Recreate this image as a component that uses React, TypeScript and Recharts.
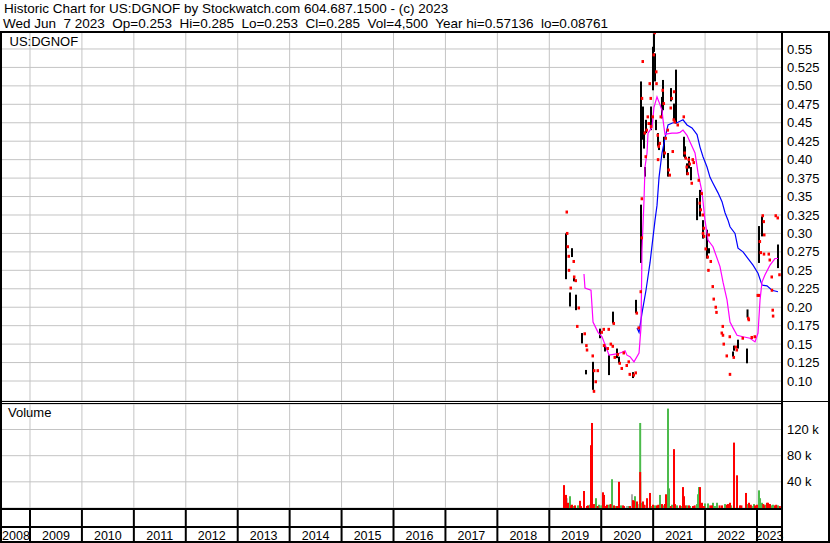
import React from "react";
import {
  ComposedChart, Line, Scatter, ErrorBar, XAxis, YAxis, CartesianGrid,
} from "recharts";

const FONT = "'Liberation Sans', Arial, sans-serif";

// daily high/low bars (decimal year)
const barT = [
  2019.322, 2019.399, 2019.437, 2019.476, 2019.514, 2019.63, 2019.707, 2019.842, 2019.976, 2020.073,
  2020.15, 2020.227, 2020.304, 2020.342, 2020.612, 2020.67, 2020.766, 2020.766, 2020.804, 2020.824,
  2020.843, 2020.862, 2020.959, 2020.997, 2021.016, 2021.036, 2021.055, 2021.093, 2021.113, 2021.17,
  2021.19, 2021.209, 2021.286, 2021.344, 2021.401, 2021.44, 2021.594, 2021.613, 2021.652, 2021.69,
  2021.729, 2021.845, 2021.902, 2021.96, 2022.037, 2022.075, 2022.538, 2022.557, 2022.634, 2022.807,
  2022.817, 2023.038, 2023.096, 2023.404,
];
const barHi = [
  0.3, 0.22, 0.28, 0.241, 0.217, 0.165, 0.115, 0.126, 0.171, 0.149,
  0.135, 0.194, 0.144, 0.133, 0.112, 0.21, 0.339, 0.506, 0.472, 0.438,
  0.39, 0.454, 0.472, 0.553, 0.571, 0.544, 0.454, 0.436, 0.424, 0.485,
  0.508, 0.431, 0.409, 0.497, 0.476, 0.522, 0.431, 0.418, 0.395, 0.404,
  0.39, 0.348, 0.359, 0.318, 0.305, 0.28, 0.14, 0.148, 0.156, 0.144,
  0.197, 0.31, 0.323, 0.285,
];
const barLo = [
  0.238, 0.201, 0.268, 0.235, 0.196, 0.151, 0.109, 0.088, 0.158, 0.14,
  0.108, 0.178, 0.131, 0.124, 0.104, 0.192, 0.26, 0.39, 0.427, 0.415,
  0.377, 0.436, 0.44, 0.494, 0.546, 0.506, 0.44, 0.418, 0.413, 0.456,
  0.467, 0.402, 0.377, 0.479, 0.454, 0.449, 0.404, 0.402, 0.379, 0.388,
  0.372, 0.318, 0.323, 0.293, 0.266, 0.273, 0.133, 0.141, 0.144, 0.124,
  0.186, 0.26, 0.296, 0.253,
];

// close ticks
const closeT = [
  2019.322, 2019.33, 2019.341, 2019.36, 2019.365, 2019.399, 2019.456, 2019.465, 2019.495, 2019.524,
  2019.553, 2019.668, 2019.7, 2019.712, 2019.822, 2019.846, 2019.85, 2019.88, 2019.919, 2019.995,
  2020.034, 2020.04, 2020.111, 2020.13, 2020.17, 2020.208, 2020.227, 2020.246, 2020.304, 2020.342,
  2020.381, 2020.419, 2020.477, 2020.515, 2020.535, 2020.612, 2020.65, 2020.67, 2020.708, 2020.747,
  2020.766, 2020.768, 2020.77, 2020.785, 2020.824, 2020.843, 2020.862, 2020.882, 2020.901, 2020.92,
  2020.939, 2020.945, 2020.978, 2020.997, 2021.016, 2021.045, 2021.05, 2021.074, 2021.08, 2021.093,
  2021.113, 2021.132, 2021.17, 2021.19, 2021.209, 2021.228, 2021.267, 2021.286, 2021.305, 2021.324,
  2021.344, 2021.363, 2021.382, 2021.39, 2021.401, 2021.459, 2021.575, 2021.594, 2021.613, 2021.632,
  2021.652, 2021.671, 2021.69, 2021.729, 2021.748, 2021.767, 2021.864, 2021.883, 2021.902, 2021.921,
  2021.941, 2021.945, 2021.96, 2021.965, 2021.998, 2022.037, 2022.05, 2022.056, 2022.095, 2022.133,
  2022.152, 2022.191, 2022.205, 2022.307, 2022.326, 2022.33, 2022.345, 2022.403, 2022.461, 2022.465,
  2022.538, 2022.576, 2022.596, 2022.711, 2022.817, 2022.827, 2022.884, 2022.942, 2023.0, 2023.019,
  2023.04, 2023.058, 2023.096, 2023.115, 2023.12, 2023.125, 2023.212, 2023.231, 2023.269, 2023.273,
  2023.288, 2023.295, 2023.346, 2023.385, 2023.418,
];
const closeP = [
  0.329, 0.3, 0.282, 0.269, 0.25, 0.226, 0.262, 0.241, 0.236, 0.174,
  0.199, 0.164, 0.148, 0.142, 0.134, 0.086, 0.114, 0.099, 0.114, 0.166,
  0.17, 0.148, 0.144, 0.17, 0.15, 0.147, 0.178, 0.132, 0.136, 0.124,
  0.117, 0.138, 0.121, 0.126, 0.109, 0.108, 0.111, 0.192, 0.172, 0.221,
  0.294, 0.347, 0.483, 0.533, 0.436, 0.404, 0.44, 0.458, 0.449, 0.503,
  0.483, 0.445, 0.458, 0.542, 0.572, 0.519, 0.503, 0.433, 0.4, 0.418,
  0.422, 0.458, 0.494, 0.476, 0.409, 0.429, 0.44, 0.386, 0.379, 0.47,
  0.483, 0.411, 0.454, 0.492, 0.451, 0.447, 0.458, 0.409, 0.402, 0.39,
  0.381, 0.4, 0.394, 0.368, 0.4, 0.396, 0.372, 0.341, 0.332, 0.354,
  0.325, 0.3, 0.307, 0.296, 0.279, 0.268, 0.25, 0.298, 0.262, 0.228,
  0.211, 0.2, 0.193, 0.165, 0.174, 0.162, 0.15, 0.134, 0.16, 0.109,
  0.132, 0.146, 0.142, 0.158, 0.185, 0.183, 0.159, 0.16, 0.216, 0.216,
  0.289, 0.274, 0.324, 0.316, 0.272, 0.298, 0.272, 0.264, 0.241, 0.223,
  0.196, 0.188, 0.324, 0.321, 0.244,
];

// short moving average (magenta)
const maFastT = [
  2019.668, 2019.687, 2019.803, 2019.842, 2019.938, 2020.015, 2020.092, 2020.15, 2020.323, 2020.4,
  2020.458, 2020.496, 2020.554, 2020.631, 2020.728, 2020.766, 2020.785, 2020.824, 2020.843, 2020.882,
  2020.901, 2020.978, 2021.016, 2021.074, 2021.113, 2021.17, 2021.19, 2021.228, 2021.267, 2021.363,
  2021.459, 2021.517, 2021.575, 2021.652, 2021.71, 2021.806, 2021.864, 2021.941, 2021.998, 2022.056,
  2022.152, 2022.287, 2022.345, 2022.422, 2022.48, 2022.538, 2022.615, 2022.73, 2022.865, 2022.961,
  2023.019, 2023.058, 2023.096, 2023.154, 2023.25, 2023.346, 2023.404,
];
const maFastP = [
  0.245, 0.226, 0.223, 0.18, 0.166, 0.16, 0.146, 0.135, 0.137, 0.139,
  0.141, 0.135, 0.133, 0.126, 0.138, 0.173, 0.278, 0.345, 0.39, 0.409,
  0.436, 0.444, 0.471, 0.485, 0.478, 0.467, 0.454, 0.434, 0.435, 0.436,
  0.436, 0.437, 0.44, 0.433, 0.424, 0.409, 0.382, 0.356, 0.318, 0.291,
  0.282, 0.255, 0.234, 0.21, 0.18, 0.172, 0.162, 0.16, 0.158, 0.153,
  0.165, 0.21, 0.234, 0.244, 0.257, 0.266, 0.266,
];

// long moving average (blue)
const maSlowT = [
  2020.689, 2020.728, 2020.785, 2020.862, 2020.939, 2021.036, 2021.074, 2021.113, 2021.17, 2021.228,
  2021.286, 2021.382, 2021.459, 2021.575, 2021.652, 2021.748, 2021.845, 2021.902, 2021.96, 2022.037,
  2022.095, 2022.152, 2022.249, 2022.326, 2022.384, 2022.441, 2022.48, 2022.576, 2022.634, 2022.73,
  2022.827, 2022.923, 2023.019, 2023.096, 2023.192, 2023.288, 2023.404,
];
const maSlowP = [
  0.172, 0.166, 0.192, 0.223, 0.26, 0.318, 0.338, 0.376, 0.409, 0.429,
  0.447, 0.45, 0.45, 0.454, 0.447, 0.443, 0.434, 0.417, 0.404, 0.39,
  0.376, 0.368, 0.355, 0.343, 0.328, 0.318, 0.309, 0.3, 0.28, 0.275,
  0.266, 0.257, 0.246, 0.23, 0.229, 0.223, 0.221,
];

// volume in thousands, d = down, u = up, n = unchanged
const volT = [
  2019.283, 2019.322, 2019.335, 2019.36, 2019.399, 2019.437, 2019.495, 2019.553, 2019.591, 2019.668,
  2019.726, 2019.784, 2019.803, 2019.822, 2019.899, 2019.957, 2020.034, 2020.053, 2020.111, 2020.15,
  2020.208, 2020.246, 2020.304, 2020.342, 2020.381, 2020.438, 2020.496, 2020.554, 2020.592, 2020.612,
  2020.631, 2020.65, 2020.689, 2020.75, 2020.75, 2020.75, 2020.785, 2020.804, 2020.843, 2020.882,
  2020.939, 2020.997, 2021.036, 2021.074, 2021.132, 2021.17, 2021.228, 2021.247, 2021.286, 2021.305,
  2021.363, 2021.401, 2021.459, 2021.517, 2021.575, 2021.594, 2021.652, 2021.69, 2021.767, 2021.845,
  2021.864, 2021.883, 2021.902, 2021.941, 2021.998, 2022.056, 2022.133, 2022.152, 2022.23, 2022.326,
  2022.384, 2022.441, 2022.48, 2022.557, 2022.615, 2022.672, 2022.788, 2022.807, 2022.846, 2022.942,
  2022.961, 2023.038, 2023.058, 2023.096, 2023.135, 2023.192, 2023.212, 2023.25, 2023.307, 2023.346,
  2023.404,
  2019.3, 2019.42, 2019.46, 2019.61, 2019.745, 2019.86, 2019.93, 2020.0, 2020.09, 2020.18,
  2020.27, 2020.42, 2020.52, 2020.7, 2020.83, 2020.96, 2021.1, 2021.2, 2021.34, 2021.42,
  2021.54, 2021.62, 2021.71, 2021.8, 2021.98, 2022.1, 2022.19, 2022.28, 2022.42, 2022.5,
  2022.7, 2022.88, 2022.9, 2023.0, 2023.12, 2023.16, 2023.23, 2023.27, 2023.37, 2023.44,
];
const volK = [
  35, 20, 15, 8, 18, 5, 4, 4, 11, 26,
  3, 5, 96, 130, 15, 5, 24, 20, 5, 5,
  44, 4, 3, 40, 4, 3, 3, 3, 21, 12,
  11, 18, 10, 130, 55, 40, 8, 10, 4, 15,
  23, 5, 4, 4, 20, 6, 6, 21, 152, 30,
  5, 90, 4, 4, 32, 18, 4, 4, 3, 6,
  21, 32, 32, 8, 7, 7, 4, 8, 8, 4,
  6, 6, 8, 100, 50, 4, 23, 6, 8, 6,
  4, 27, 15, 8, 4, 8, 8, 6, 5, 4,
  4,
  3, 4, 3, 3, 4, 6, 3, 4, 3, 6,
  3, 4, 3, 6, 5, 3, 5, 4, 3, 6,
  3, 4, 3, 4, 3, 4, 3, 4, 5, 4,
  4, 5, 3, 5, 6, 5, 6, 4, 5, 3,
];
const volDir = [
  "d", "d", "n", "d", "u", "d", "d", "u", "d", "d",
  "d", "u", "d", "d", "u", "u", "d", "d", "d", "u",
  "u", "d", "d", "d", "u", "d", "n", "d", "n", "d",
  "d", "u", "d", "u", "d", "u", "u", "d", "n", "d",
  "d", "d", "u", "d", "u", "d", "d", "d", "u", "u",
  "u", "d", "u", "d", "d", "d", "u", "d", "d", "u",
  "u", "u", "d", "d", "u", "u", "d", "u", "u", "d",
  "u", "d", "d", "d", "d", "d", "d", "u", "d", "u",
  "d", "u", "u", "u", "d", "d", "d", "d", "u", "d",
  "u",
  "d", "d", "u", "d", "d", "d", "d", "u", "d", "d",
  "u", "d", "u", "u", "d", "u", "d", "u", "d", "d",
  "u", "d", "u", "d", "d", "d", "u", "d", "d", "u",
  "d", "d", "u", "d", "d", "u", "d", "u", "d", "d",
];

const yearEdges = [2009, 2010, 2011, 2012, 2013, 2014, 2015, 2016, 2017, 2018, 2019, 2020, 2021, 2022, 2023];
const yearNames = [2008, ...yearEdges];
const priceTicks = [0.1, 0.125, 0.15, 0.175, 0.2, 0.225, 0.25, 0.275, 0.3, 0.325, 0.35, 0.375, 0.4, 0.425, 0.45, 0.475, 0.5, 0.525, 0.55];
const volTicks = [40, 80, 120];

const X_DOMAIN: [number, number] = [2008.461, 2023.481];

// each range is drawn as an error bar hanging below its top value
const priceRows = barT.map((t, i) => ({ t, hi: barHi[i], err: [barHi[i] - barLo[i], 0] }));
const closeRows = closeT.map((t, i) => ({ t, cl: closeP[i] }));
const fastRows = maFastT.map((t, i) => ({ t, v: maFastP[i] }));
const slowRows = maSlowT.map((t, i) => ({ t, v: maSlowP[i] }));
const volRows = volT.map((t, i) => ({ t, k: volK[i], dir: volDir[i], err: [volK[i], 0] }));
const volGroups = [
  { dir: "u", color: "#4cbb4c" },
  { dir: "n", color: "#a8a8a8" },
  { dir: "d", color: "#ff0000" },
];

// year labels sit in the middle of each (possibly partial) year box
const labelPos = yearNames.map((y) => (Math.max(y, X_DOMAIN[0]) + Math.min(y + 1, X_DOMAIN[1])) / 2);
const bandTicks = [...yearEdges, ...labelPos].sort((a, b) => a - b);

const fmtPrice = (v: number) => {
  const m = Math.round(v * 1000);
  return m % 10 === 0 ? (m / 1000).toFixed(2) : (m / 1000).toFixed(3);
};

const tickStyle = { fontSize: 13, fill: "#000", fontFamily: FONT };
const noShape = () => <g />;

function CloseMark(props: any) {
  const { cx, cy } = props;
  if (cx == null || cy == null) return null;
  return <rect x={cx - 0.5} y={cy - 1.5} width={2.5} height={3} fill="#ff0000" />;
}

function YearTick(props: any) {
  const { x, payload } = props;
  const v = payload.value;
  if (Number.isInteger(v)) {
    return <line x1={x} x2={x} y1={104} y2={138} stroke="#000" strokeWidth={2} />;
  }
  return (
    <text x={x} y={136} textAnchor="middle" fontSize={12.5} fontFamily={FONT} fill="#000">
      {Math.floor(v)}
    </text>
  );
}

export default function App() {
  return (
    <div style={{ position: "absolute", left: 0, top: 0, width: 830, height: 543, background: "#fff", overflow: "hidden" }}>
      <div style={{ position: "absolute", left: 0, top: 32 }}>
        <ComposedChart width={830} height={369} margin={{ top: 0, right: 0, left: 2, bottom: 0 }}>
          <CartesianGrid stroke="#c4c4c4" verticalValues={yearEdges} />
          <XAxis dataKey="t" type="number" domain={X_DOMAIN} ticks={yearEdges} allowDataOverflow hide />
          <YAxis
            orientation="right"
            type="number"
            domain={[0.0729, 0.573]}
            ticks={priceTicks}
            allowDataOverflow
            width={48}
            axisLine={false}
            tickLine={false}
            tickSize={0}
            tickMargin={5}
            interval={0}
            tick={tickStyle}
            tickFormatter={fmtPrice}
          />
          <Scatter data={priceRows} dataKey="hi" shape={noShape} isAnimationActive={false}>
            <ErrorBar dataKey="err" direction="y" width={0} stroke="#000" strokeWidth={2} />
          </Scatter>
          <Line data={slowRows} dataKey="v" type="linear" stroke="#0000ff" strokeWidth={1.2} dot={false} isAnimationActive={false} />
          <Line data={fastRows} dataKey="v" type="linear" stroke="#ff00ff" strokeWidth={1.2} dot={false} isAnimationActive={false} />
          <Scatter data={closeRows} dataKey="cl" shape={<CloseMark />} isAnimationActive={false} />
        </ComposedChart>
      </div>

      <div style={{ position: "absolute", left: 0, top: 404 }}>
        <ComposedChart width={830} height={138} margin={{ top: 0, right: 0, left: 2, bottom: 0 }}>
          <CartesianGrid stroke="#c4c4c4" verticalValues={yearEdges} />
          <XAxis
            dataKey="t"
            type="number"
            domain={X_DOMAIN}
            ticks={bandTicks}
            allowDataOverflow
            height={34}
            axisLine={false}
            tickLine={false}
            interval={0}
            tick={<YearTick />}
          />
          <YAxis
            orientation="right"
            type="number"
            domain={[0, 159]}
            ticks={volTicks}
            allowDataOverflow
            width={48}
            axisLine={false}
            tickLine={false}
            tickSize={0}
            tickMargin={5}
            interval={0}
            tick={tickStyle}
            tickFormatter={(v: number) => `${v} k`}
          />
          {volGroups.map((g) => (
            <Scatter
              key={g.dir}
              data={volRows.filter((r) => r.dir === g.dir)}
              dataKey="k"
              shape={noShape}
              isAnimationActive={false}
            >
              <ErrorBar dataKey="err" direction="y" width={0} stroke={g.color} strokeWidth={2} />
            </Scatter>
          ))}
        </ComposedChart>
      </div>

      <svg width={830} height={543} style={{ position: "absolute", left: 0, top: 0, pointerEvents: "none" }}>
        <g fontFamily={FONT} fill="#000">
          <text x={4} y={12.7} fontSize={13.5} style={{ whiteSpace: "pre" }}>
            Historic Chart for US:DGNOF by Stockwatch.com 604.687.1500 - (c) 2023
          </text>
          <text x={3} y={28.3} fontSize={13.5} style={{ whiteSpace: "pre" }}>
            {"Wed Jun  7 2023  Op=0.253  Hi=0.285  Lo=0.253  Cl=0.285  Vol=4,500  Year hi=0.57136  lo=0.08761"}
          </text>
          <text x={9.5} y={46} fontSize={13}>US:DGNOF</text>
          <text x={8} y={417} fontSize={13}>Volume</text>
        </g>
        <g fill="#000">
          <rect x={0} y={31} width={830} height={2} />
          <rect x={0} y={31} width={2} height={512} />
          <rect x={828} y={31} width={2} height={512} />
          <rect x={781} y={31} width={2} height={512} />
          <rect x={0} y={401} width={781} height={1} />
          <rect x={0} y={403} width={781} height={1} />
          <rect x={781} y={401} width={49} height={1} />
          <rect x={0} y={508} width={781} height={2} />
          <rect x={0} y={526} width={781} height={2} />
          <rect x={0} y={541} width={830} height={2} />
        </g>
      </svg>
    </div>
  );
}
